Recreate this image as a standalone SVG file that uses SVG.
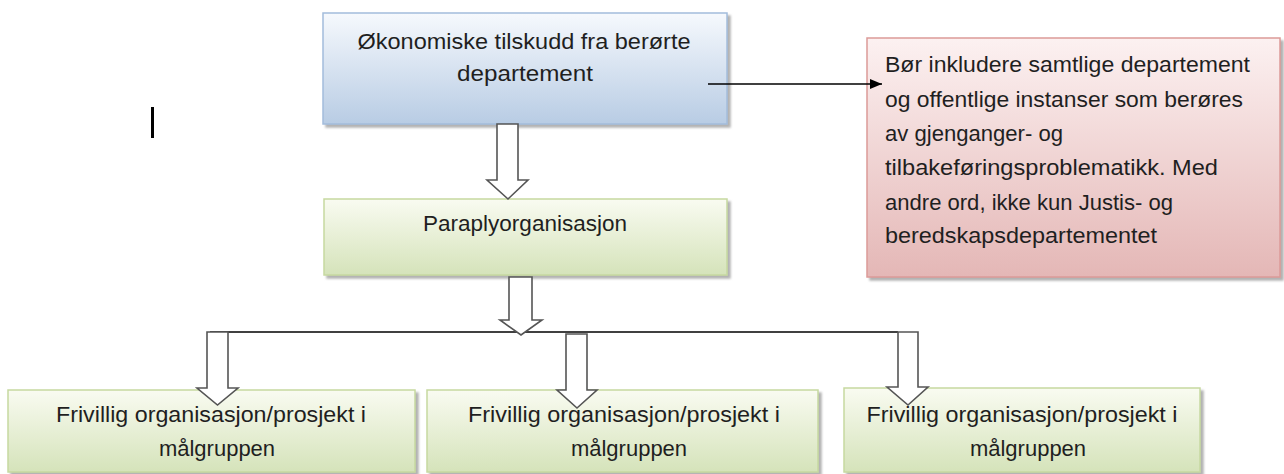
<svg xmlns="http://www.w3.org/2000/svg" width="1284" height="474" viewBox="0 0 1284 474">
<style>
text{font-family:"Liberation Sans",Arial,sans-serif;font-size:22px;fill:#1f1f1f}
.c{text-anchor:middle}
.blue{fill:url(#gBlue);stroke:#a3bcdb;stroke-width:1.5}
.green{fill:url(#gGreen);stroke:#c6d9a0;stroke-width:1.5}
.red{fill:url(#gRed);stroke:#dc9a98;stroke-width:1.5}
.box{filter:url(#sh)}
.barrow{fill:#fff;stroke:#555;stroke-width:1.6;stroke-linejoin:miter}
.ln{stroke:#000;stroke-width:1.5;fill:none}
</style>
<defs>
<linearGradient id="gBlue" x1="0" y1="0" x2="0" y2="1"><stop offset="0" stop-color="#f6f9fd"/><stop offset="1" stop-color="#b8cce4"/></linearGradient>
<linearGradient id="gGreen" x1="0" y1="0" x2="0" y2="1"><stop offset="0" stop-color="#f9fbf1"/><stop offset="1" stop-color="#d5e3ba"/></linearGradient>
<linearGradient id="gRed" x1="0" y1="0" x2="0" y2="1"><stop offset="0" stop-color="#fcf1f1"/><stop offset="1" stop-color="#e4b7b6"/></linearGradient>
<filter id="sh" x="-5%" y="-5%" width="115%" height="120%"><feDropShadow dx="3" dy="3" stdDeviation="1.2" flood-color="#808080" flood-opacity="0.6"/></filter>
<marker id="ah" markerWidth="12" markerHeight="10" refX="12" refY="5" orient="auto" markerUnits="userSpaceOnUse"><path d="M0,0 L12,5 L0,10 Z" fill="#000"/></marker>
</defs>
<rect x="151" y="107" width="3" height="31" fill="#000"/>
<g id="n-top">
<rect class="blue box" x="323" y="13" width="404" height="111"/>
<text class="c" x="524" y="49" textLength="333" lengthAdjust="spacingAndGlyphs">Økonomiske tilskudd fra berørte</text>
<text class="c" x="525" y="81" textLength="136" lengthAdjust="spacingAndGlyphs">departement</text>
</g>
<g id="n-note">
<rect class="red box" x="867" y="38" width="413" height="239"/>
<text x="885" y="72" textLength="365" lengthAdjust="spacingAndGlyphs">Bør inkludere samtlige departement</text>
<text x="885" y="107" textLength="358" lengthAdjust="spacingAndGlyphs">og offentlige instanser som berøres</text>
<text x="885" y="141" textLength="178" lengthAdjust="spacingAndGlyphs">av gjenganger- og</text>
<text x="885" y="175" textLength="333" lengthAdjust="spacingAndGlyphs">tilbakeføringsproblematikk. Med</text>
<text x="885" y="210" textLength="288" lengthAdjust="spacingAndGlyphs">andre ord, ikke kun Justis- og</text>
<text x="885" y="243" textLength="272" lengthAdjust="spacingAndGlyphs">beredskapsdepartementet</text>
</g>
<g id="n-para">
<rect class="green box" x="324" y="199" width="403" height="76"/>
<text x="423" y="231" textLength="204" lengthAdjust="spacingAndGlyphs">Paraplyorganisasjon</text>
</g>
<g id="n-f1">
<rect class="green box" x="8" y="390" width="407" height="82"/>
<text class="c" x="211" y="422" textLength="310" lengthAdjust="spacingAndGlyphs">Frivillig organisasjon/prosjekt i</text>
<text class="c" x="217" y="456">målgruppen</text>
</g>
<g id="n-f2">
<rect class="green box" x="427" y="390" width="391" height="82"/>
<text class="c" x="624" y="422" textLength="312" lengthAdjust="spacingAndGlyphs">Frivillig organisasjon/prosjekt i</text>
<text class="c" x="629" y="456">målgruppen</text>
</g>
<g id="n-f3">
<rect class="green box" x="844" y="388" width="356" height="84"/>
<text class="c" x="1022" y="422" textLength="311" lengthAdjust="spacingAndGlyphs">Frivillig organisasjon/prosjekt i</text>
<text class="c" x="1028" y="456">målgruppen</text>
</g>
<g id="connectors">
<line class="ln" x1="708" y1="84" x2="882" y2="84" marker-end="url(#ah)"/>
<line class="ln" x1="210" y1="332" x2="898" y2="332"/>
<polygon class="barrow" points="497,124 518,124 518,180 528,180 508,199 487,180 497,180"/>
<polygon class="barrow" points="509,277 532,277 532,320 542,320 521,335 500,320 509,320"/>
<polygon class="barrow" points="207,332 228,332 228,388 238,388 217.5,405 197,388 207,388"/>
<polygon class="barrow" points="566,334 587,334 587,390 597,390 577,408 557,390 566,390"/>
<polygon class="barrow" points="898,332 918,332 918,387 928,387 908,405 887,387 898,387"/>
</g>
</svg>
